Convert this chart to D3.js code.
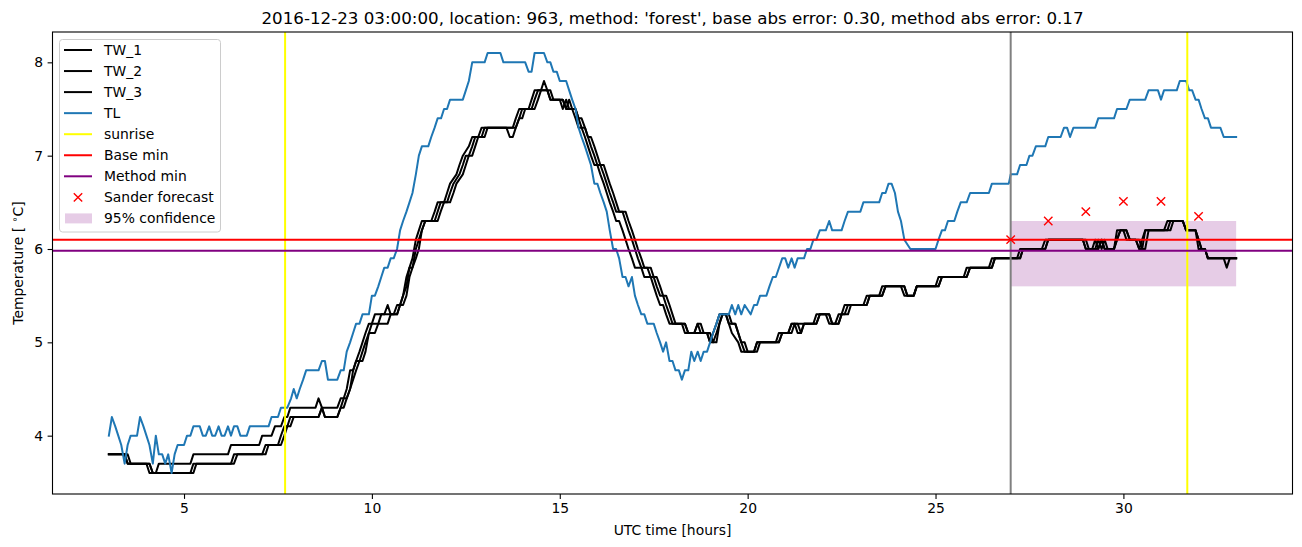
<!DOCTYPE html>
<html><head><meta charset="utf-8">
<script src="https://cdn.jsdelivr.net/npm/d3@7"></script>
<style>body{margin:0;background:#fff} svg{display:block} text{font-family:"DejaVu Sans",sans-serif;fill:#000}</style>
</head><body><svg id="c" width="1302" height="547"></svg>
<script>
// ---------------- data (hours since 2016-12-23 00:00 UTC, temperature °C) ----------------
const tlPoints = [[3.0,4.0],[3.08,4.2],[3.17,4.1],[3.25,4.0],[3.33,3.9],[3.42,3.7],[3.5,3.9],[3.58,4.0],[3.75,4.0],[3.83,4.2],[3.92,4.1],[4.0,4.0],[4.08,3.9],[4.17,3.7],[4.25,4.0],[4.33,3.8],[4.42,3.8],[4.5,3.7],[4.58,3.8],[4.67,3.6],[4.75,3.8],[4.83,3.9],[5.0,3.9],[5.08,4.0],[5.17,4.0],[5.25,4.1],[5.42,4.1],[5.5,4.0],[5.58,4.0],[5.67,4.1],[5.75,4.0],[5.83,4.0],[5.92,4.1],[6.0,4.0],[6.08,4.0],[6.17,4.1],[6.25,4.0],[6.33,4.1],[6.42,4.1],[6.5,4.0],[6.67,4.0],[6.75,4.1],[7.25,4.1],[7.33,4.2],[7.5,4.2],[7.58,4.3],[7.75,4.3],[7.85,4.4],[7.92,4.5],[8.0,4.4],[8.08,4.5],[8.17,4.6],[8.25,4.7],[8.58,4.7],[8.67,4.8],[8.75,4.8],[8.83,4.6],[9.08,4.6],[9.17,4.7],[9.25,4.7],[9.33,4.9],[9.42,5.0],[9.5,5.1],[9.58,5.2],[9.67,5.2],[9.75,5.3],[9.92,5.3],[10.0,5.5],[10.08,5.5],[10.17,5.6],[10.25,5.7],[10.33,5.8],[10.42,5.8],[10.5,5.9],[10.58,5.9],[10.67,6.0],[10.75,6.2],[10.83,6.3],[10.92,6.4],[11.0,6.5],[11.08,6.6],[11.17,6.8],[11.25,7.0],[11.33,7.1],[11.5,7.1],[11.58,7.2],[11.67,7.3],[11.75,7.4],[11.84,7.4],[11.92,7.5],[12.0,7.5],[12.08,7.6],[12.42,7.6],[12.5,7.7],[12.58,7.8],[12.67,8.0],[13.0,8.0],[13.08,8.1],[13.42,8.1],[13.5,8.0],[14.08,8.0],[14.17,7.9],[14.25,7.9],[14.33,8.1],[14.58,8.1],[14.67,8.0],[14.75,8.0],[14.83,7.9],[14.92,7.9],[15.0,7.8],[15.17,7.8],[15.25,7.7],[15.33,7.6],[15.42,7.5],[15.5,7.3],[15.58,7.2],[15.67,7.1],[15.75,7.0],[15.83,6.9],[15.92,6.7],[16.0,6.7],[16.08,6.6],[16.17,6.5],[16.25,6.4],[16.33,6.2],[16.42,6.0],[16.5,6.0],[16.58,5.9],[16.67,5.7],[16.75,5.7],[16.83,5.6],[16.92,5.7],[17.0,5.5],[17.08,5.4],[17.17,5.3],[17.25,5.3],[17.33,5.2],[17.5,5.2],[17.58,5.1],[17.67,5.0],[17.75,4.9],[17.83,5.0],[17.92,4.8],[18.0,4.8],[18.08,4.7],[18.17,4.7],[18.25,4.6],[18.33,4.7],[18.42,4.7],[18.5,4.9],[18.58,4.8],[18.67,4.9],[18.75,4.8],[18.83,4.9],[18.92,4.9],[19.0,5.0],[19.08,5.1],[19.17,5.2],[19.25,5.3],[19.5,5.3],[19.58,5.4],[19.67,5.3],[19.75,5.4],[19.83,5.3],[19.92,5.4],[20.08,5.3],[20.17,5.4],[20.25,5.4],[20.33,5.5],[20.5,5.5],[20.58,5.6],[20.67,5.7],[20.75,5.7],[20.92,5.9],[21.0,5.9],[21.08,5.8],[21.17,5.9],[21.25,5.8],[21.33,5.9],[21.5,5.9],[21.58,6.0],[21.67,6.0],[21.75,6.1],[21.83,6.1],[21.92,6.2],[22.08,6.2],[22.17,6.3],[22.25,6.2],[22.5,6.2],[22.58,6.3],[22.67,6.4],[23.0,6.4],[23.08,6.5],[23.5,6.5],[23.58,6.6],[23.67,6.6],[23.75,6.7],[23.83,6.7],[23.92,6.6],[24.0,6.4],[24.08,6.3],[24.17,6.1],[24.33,6.0],[25.0,6.0],[25.08,6.1],[25.17,6.2],[25.25,6.2],[25.33,6.3],[25.5,6.3],[25.58,6.4],[25.67,6.5],[25.83,6.5],[25.92,6.6],[26.42,6.6],[26.5,6.7],[26.95,6.7],[27.0,6.8],[27.17,6.8],[27.25,6.9],[27.42,6.9],[27.5,7.0],[27.58,7.0],[27.67,7.1],[27.92,7.1],[28.0,7.2],[28.33,7.2],[28.42,7.3],[28.5,7.3],[28.58,7.2],[28.67,7.3],[29.25,7.3],[29.33,7.4],[29.75,7.4],[29.83,7.5],[30.08,7.5],[30.17,7.6],[30.58,7.6],[30.67,7.7],[30.92,7.7],[31.0,7.6],[31.08,7.7],[31.42,7.7],[31.5,7.8],[31.67,7.8],[31.75,7.7],[31.83,7.7],[31.92,7.6],[32.0,7.6],[32.08,7.5],[32.17,7.4],[32.25,7.4],[32.33,7.3],[32.58,7.3],[32.67,7.2],[33.0,7.2]];

const tw1Points = [[3.0,3.8],[3.42,3.8],[3.5,3.7],[4.0,3.7],[4.08,3.6],[4.25,3.6],[4.33,3.7],[5.17,3.7],[5.25,3.8],[6.17,3.8],[6.25,3.9],[7.0,3.9],[7.08,4.0],[7.33,4.0],[7.42,4.1],[7.58,4.1],[7.67,4.2],[7.75,4.2],[7.83,4.3],[8.5,4.3],[8.58,4.4],[8.67,4.3],[9.08,4.3],[9.17,4.4],[9.25,4.4],[9.33,4.5],[9.42,4.7],[9.5,4.7],[9.58,4.8],[9.67,4.9],[9.75,5.0],[9.83,5.1],[9.92,5.2],[10.0,5.2],[10.08,5.3],[10.33,5.3],[10.42,5.4],[10.5,5.3],[10.67,5.3],[10.75,5.4],[10.83,5.5],[10.92,5.7],[11.0,5.8],[11.08,5.9],[11.17,6.1],[11.25,6.2],[11.33,6.3],[11.58,6.3],[11.67,6.4],[11.75,6.5],[11.92,6.5],[12.0,6.6],[12.08,6.7],[12.25,6.8],[12.33,6.9],[12.42,7.0],[12.58,7.1],[12.67,7.2],[12.83,7.2],[12.92,7.3],[13.75,7.3],[13.83,7.4],[13.92,7.5],[14.17,7.5],[14.25,7.6],[14.33,7.7],[14.5,7.7],[14.58,7.8],[14.67,7.7],[14.75,7.6],[15.0,7.6],[15.08,7.5],[15.17,7.6],[15.25,7.5],[15.33,7.5],[15.42,7.4],[15.5,7.3],[15.58,7.3],[15.67,7.2],[15.75,7.1],[15.83,7.0],[15.92,6.9],[16.0,6.9],[16.08,6.8],[16.17,6.7],[16.25,6.6],[16.33,6.5],[16.42,6.4],[16.5,6.3],[16.58,6.3],[16.67,6.2],[16.75,6.1],[16.83,6.0],[16.92,5.9],[17.0,5.8],[17.17,5.8],[17.25,5.7],[17.42,5.7],[17.5,5.6],[17.58,5.5],[17.67,5.4],[17.75,5.4],[17.83,5.3],[17.92,5.2],[18.33,5.2],[18.42,5.1],[18.58,5.1],[18.67,5.2],[18.75,5.1],[18.92,5.1],[19.0,5.0],[19.08,5.1],[19.17,5.2],[19.25,5.3],[19.42,5.3],[19.5,5.2],[19.58,5.1],[19.75,5.0],[19.83,4.9],[20.17,4.9],[20.25,5.0],[20.75,5.0],[20.83,5.1],[21.08,5.1],[21.17,5.2],[21.75,5.2],[21.83,5.3],[22.08,5.3],[22.17,5.2],[22.33,5.2],[22.42,5.3],[22.5,5.3],[22.58,5.4],[23.08,5.4],[23.17,5.5],[23.5,5.5],[23.58,5.6],[24.08,5.6],[24.17,5.5],[24.42,5.5],[24.5,5.6],[25.0,5.6],[25.08,5.7],[25.75,5.7],[25.83,5.8],[26.42,5.8],[26.5,5.9],[27.17,5.9],[27.25,6.0],[27.83,6.0],[27.92,6.1],[28.92,6.1],[29.0,6.0],[29.17,6.0],[29.25,6.1],[29.33,6.0],[29.42,6.1],[29.5,6.0],[29.75,6.0],[29.83,6.2],[30.0,6.2],[30.08,6.1],[30.33,6.1],[30.42,6.0],[30.5,6.1],[30.58,6.2],[31.08,6.2],[31.17,6.3],[31.58,6.3],[31.67,6.2],[31.92,6.2],[32.0,6.0],[32.17,6.0],[32.25,5.9],[33.0,5.9]];

const tw2Points = [[3.0,3.8],[3.42,3.8],[3.5,3.7],[4.08,3.7],[4.17,3.6],[5.17,3.6],[5.25,3.7],[6.25,3.7],[6.33,3.8],[7.08,3.8],[7.17,3.9],[7.5,3.9],[7.58,4.0],[7.67,4.1],[7.75,4.1],[7.83,4.2],[8.58,4.2],[8.67,4.3],[8.75,4.2],[9.08,4.2],[9.17,4.3],[9.25,4.4],[9.33,4.4],[9.42,4.5],[9.5,4.7],[9.58,4.8],[9.67,4.8],[9.75,4.9],[9.83,5.0],[9.92,5.1],[10.0,5.2],[10.17,5.2],[10.25,5.3],[10.58,5.3],[10.67,5.4],[10.75,5.4],[10.83,5.5],[10.92,5.6],[11.0,5.8],[11.08,5.8],[11.17,6.0],[11.25,6.1],[11.33,6.2],[11.42,6.3],[11.67,6.3],[11.75,6.4],[11.83,6.5],[12.0,6.5],[12.08,6.6],[12.17,6.7],[12.33,6.8],[12.42,6.9],[12.5,7.0],[12.58,7.0],[12.67,7.1],[12.75,7.2],[12.92,7.2],[13.0,7.3],[13.83,7.3],[13.92,7.4],[14.0,7.5],[14.25,7.5],[14.33,7.6],[14.42,7.7],[14.67,7.7],[14.75,7.6],[15.08,7.6],[15.17,7.5],[15.25,7.6],[15.33,7.5],[15.42,7.5],[15.5,7.4],[15.58,7.3],[15.67,7.3],[15.75,7.2],[15.83,7.1],[15.92,7.0],[16.0,6.9],[16.08,6.9],[16.17,6.8],[16.25,6.7],[16.33,6.6],[16.42,6.5],[16.5,6.4],[16.67,6.4],[16.75,6.3],[16.83,6.2],[16.92,6.1],[17.0,6.0],[17.08,5.9],[17.17,5.8],[17.33,5.8],[17.42,5.7],[17.5,5.7],[17.58,5.6],[17.67,5.5],[17.75,5.5],[17.83,5.4],[17.92,5.3],[18.0,5.2],[18.33,5.2],[18.42,5.1],[18.58,5.1],[18.67,5.2],[18.75,5.2],[18.83,5.1],[19.0,5.1],[19.08,5.0],[19.17,5.1],[19.25,5.2],[19.33,5.3],[19.42,5.3],[19.5,5.2],[19.67,5.2],[19.75,5.1],[19.83,5.0],[19.92,4.9],[20.17,4.9],[20.25,5.0],[20.83,5.0],[20.92,5.1],[21.08,5.1],[21.17,5.2],[21.33,5.2],[21.42,5.1],[21.5,5.2],[21.83,5.2],[21.92,5.3],[22.17,5.3],[22.25,5.2],[22.42,5.2],[22.5,5.3],[22.58,5.3],[22.67,5.4],[23.17,5.4],[23.25,5.5],[23.58,5.5],[23.67,5.6],[24.17,5.6],[24.25,5.5],[24.42,5.5],[24.5,5.6],[25.08,5.6],[25.17,5.7],[25.83,5.7],[25.92,5.8],[26.5,5.8],[26.58,5.9],[27.25,5.9],[27.33,6.0],[27.92,6.0],[28.0,6.1],[28.92,6.1],[29.0,6.0],[29.25,6.0],[29.33,6.1],[29.42,6.0],[29.5,6.1],[29.58,6.0],[29.75,6.0],[29.83,6.1],[29.92,6.2],[30.08,6.2],[30.17,6.1],[30.42,6.1],[30.5,6.0],[30.58,6.2],[31.17,6.2],[31.25,6.3],[31.58,6.3],[31.67,6.2],[31.92,6.2],[32.0,6.1],[32.08,6.0],[32.17,6.0],[32.25,5.9],[33.0,5.9]];

const tw3Points = [[3.0,3.8],[3.5,3.8],[3.58,3.7],[4.08,3.7],[4.17,3.6],[5.25,3.6],[5.33,3.7],[6.33,3.7],[6.42,3.8],[7.17,3.8],[7.25,3.9],[7.58,3.9],[7.67,4.0],[7.75,4.1],[7.83,4.1],[7.92,4.2],[8.58,4.2],[8.67,4.3],[8.75,4.2],[9.08,4.2],[9.17,4.3],[9.25,4.3],[9.33,4.4],[9.42,4.5],[9.5,4.6],[9.58,4.7],[9.67,4.8],[9.75,4.8],[9.83,4.9],[9.92,5.1],[10.08,5.1],[10.17,5.2],[10.42,5.2],[10.5,5.3],[10.67,5.3],[10.75,5.4],[10.83,5.4],[10.92,5.5],[11.0,5.7],[11.08,5.8],[11.17,5.9],[11.25,6.0],[11.33,6.2],[11.42,6.3],[11.75,6.3],[11.83,6.4],[11.92,6.5],[12.08,6.5],[12.17,6.6],[12.25,6.7],[12.42,6.8],[12.5,6.9],[12.58,7.0],[12.67,7.0],[12.75,7.1],[12.83,7.2],[13.0,7.2],[13.08,7.3],[13.58,7.3],[13.67,7.2],[13.75,7.2],[13.83,7.3],[13.92,7.4],[14.0,7.4],[14.08,7.5],[14.33,7.5],[14.42,7.6],[14.5,7.7],[14.75,7.7],[14.83,7.6],[15.08,7.6],[15.17,7.5],[15.42,7.5],[15.5,7.4],[15.58,7.4],[15.67,7.3],[15.75,7.2],[15.83,7.2],[15.92,7.1],[16.0,7.0],[16.08,6.9],[16.17,6.9],[16.25,6.8],[16.33,6.7],[16.42,6.6],[16.5,6.5],[16.58,6.4],[16.75,6.4],[16.83,6.3],[16.92,6.2],[17.0,6.1],[17.08,6.0],[17.17,5.9],[17.25,5.8],[17.42,5.8],[17.5,5.7],[17.58,5.7],[17.67,5.6],[17.75,5.5],[17.83,5.5],[17.92,5.4],[18.0,5.3],[18.08,5.2],[18.25,5.2],[18.33,5.1],[18.92,5.1],[19.0,5.0],[19.17,5.0],[19.25,5.2],[19.33,5.3],[19.5,5.3],[19.58,5.2],[19.67,5.2],[19.75,5.1],[19.83,5.0],[19.92,5.0],[20.0,4.9],[20.25,4.9],[20.33,5.0],[20.83,5.0],[20.92,5.1],[21.17,5.1],[21.25,5.2],[21.33,5.1],[21.42,5.1],[21.5,5.2],[21.83,5.2],[21.92,5.3],[22.17,5.3],[22.25,5.2],[22.42,5.2],[22.5,5.3],[22.67,5.3],[22.75,5.4],[23.17,5.4],[23.25,5.5],[23.58,5.5],[23.67,5.6],[24.17,5.6],[24.25,5.5],[24.42,5.5],[24.5,5.6],[25.08,5.6],[25.17,5.7],[25.83,5.7],[25.92,5.8],[26.5,5.8],[26.58,5.9],[27.25,5.9],[27.33,6.0],[27.92,6.0],[28.0,6.1],[29.0,6.1],[29.08,6.0],[29.33,6.0],[29.42,6.1],[29.5,6.0],[29.75,6.0],[29.83,6.1],[29.92,6.2],[30.08,6.2],[30.17,6.1],[30.33,6.1],[30.42,6.0],[30.58,6.0],[30.67,6.2],[31.25,6.2],[31.33,6.3],[31.58,6.3],[31.67,6.2],[31.92,6.2],[32.0,6.1],[32.08,6.0],[32.17,6.0],[32.25,5.9],[32.67,5.9],[32.75,5.8],[32.83,5.9],[33.0,5.9]];

const sunriseHours = [7.69, 31.70];
const forecastStartHour = 27.0;
const baseMinValue = 6.10;
const methodMinValue = 5.98;
const forecastHours = [27, 28, 29, 30, 31, 32];
const forecastValues = [6.10, 6.30, 6.40, 6.51, 6.51, 6.35];
const confidenceHours = [27.0, 33.0];
const confidenceRange = [5.60, 6.30];
const xTickValues = [5, 10, 15, 20, 25, 30];
const yTickValues = [4, 5, 6, 7, 8];
const titleText = "2016-12-23 03:00:00, location: 963, method: 'forest', base abs error: 0.30, method abs error: 0.17";
const legendLabels = ["TW_1", "TW_2", "TW_3", "TL", "sunrise", "Base min", "Method min", "Sander forecast", "95% confidence"];

// ---------------- drawing ----------------
const svg = d3.select("#c");
const M = {l: 52.5, r: 1292.5, t: 32, b: 494};
const x = d3.scaleLinear().domain([1.5, 34.5]).range([M.l, M.r]);
const y = d3.scaleLinear().domain([3.375, 8.325]).range([M.b, M.t]);
const FS = 13.9;
const LW = 2;

svg.append("defs").append("clipPath").attr("id", "clip")
  .append("rect").attr("x", M.l).attr("y", M.t).attr("width", M.r - M.l).attr("height", M.b - M.t);
const plot = svg.append("g").attr("clip-path", "url(#clip)");

// confidence band
plot.append("rect")
  .attr("x", x(confidenceHours[0])).attr("width", x(confidenceHours[1]) - x(confidenceHours[0]))
  .attr("y", y(confidenceRange[1])).attr("height", y(confidenceRange[0]) - y(confidenceRange[1]))
  .attr("fill", "purple").attr("fill-opacity", 0.2);

const line = d3.line().x(d => x(d[0])).y(d => y(d[1]));
[tw1Points, tw2Points, tw3Points].forEach(p => {
  plot.append("path").attr("d", line(p)).attr("fill", "none").attr("stroke", "#000")
    .attr("stroke-width", LW).attr("stroke-linejoin", "round").attr("stroke-linecap", "square");
});
plot.append("path").attr("d", line(tlPoints)).attr("fill", "none").attr("stroke", "#1f77b4")
  .attr("stroke-width", LW).attr("stroke-linejoin", "round").attr("stroke-linecap", "square");

// forecast start line
plot.append("line").attr("x1", x(forecastStartHour)).attr("x2", x(forecastStartHour))
  .attr("y1", M.t).attr("y2", M.b).attr("stroke", "gray").attr("stroke-width", LW);
// sunrise lines
sunriseHours.forEach(h => {
  plot.append("line").attr("x1", x(h)).attr("x2", x(h)).attr("y1", M.t).attr("y2", M.b)
    .attr("stroke", "yellow").attr("stroke-width", LW);
});
// base / method min
plot.append("line").attr("x1", M.l).attr("x2", M.r).attr("y1", y(baseMinValue)).attr("y2", y(baseMinValue))
  .attr("stroke", "red").attr("stroke-width", LW);
plot.append("line").attr("x1", M.l).attr("x2", M.r).attr("y1", y(methodMinValue)).attr("y2", y(methodMinValue))
  .attr("stroke", "purple").attr("stroke-width", LW);

// forecast markers
const ms = 4.2;
forecastHours.forEach((h, i) => {
  const cx = x(h), cy = y(forecastValues[i]);
  plot.append("path").attr("d", `M${cx-ms},${cy-ms}L${cx+ms},${cy+ms}M${cx-ms},${cy+ms}L${cx+ms},${cy-ms}`)
    .attr("stroke", "red").attr("stroke-width", 1.4).attr("fill", "none");
});

// axes
const xAxis = svg.append("g").attr("transform", `translate(0,${M.b})`)
  .call(d3.axisBottom(x).tickValues(xTickValues).tickFormat(d3.format("d")).tickSizeOuter(0).tickSize(4.9).tickPadding(4.5));
const yAxis = svg.append("g").attr("transform", `translate(${M.l},0)`)
  .call(d3.axisLeft(y).tickValues(yTickValues).tickFormat(d3.format("d")).tickSizeOuter(0).tickSize(4.9).tickPadding(4.5));
[xAxis, yAxis].forEach(a => {
  a.select(".domain").remove();
  a.selectAll("text").attr("font-size", FS).attr("font-family", "DejaVu Sans").attr("fill", "#000");
  a.selectAll("line").attr("stroke", "#000").attr("stroke-width", 1.1);
});
// frame
svg.append("rect").attr("x", M.l).attr("y", M.t).attr("width", M.r - M.l).attr("height", M.b - M.t)
  .attr("fill", "none").attr("stroke", "#000").attr("stroke-width", 1.1);

// labels
svg.append("text").attr("x", (M.l + M.r) / 2).attr("y", 535).attr("text-anchor", "middle")
  .attr("font-size", FS).text("UTC time [hours]");
const yl = svg.append("text").attr("transform", `translate(23,${(M.t + M.b) / 2}) rotate(-90)`)
  .attr("text-anchor", "middle").attr("font-size", FS);
yl.append("tspan").text("Temperature [ ");
yl.append("tspan").attr("font-size", FS * 0.7).attr("dy", -5).text("∘");
yl.append("tspan").attr("dy", 5).text("C]");
svg.append("text").attr("x", (M.l + M.r) / 2).attr("y", 24).attr("text-anchor", "middle")
  .attr("font-size", 16.7).text(titleText);

// legend
const lg = svg.append("g");
lg.append("rect").attr("x", 59.5).attr("y", 39.5).attr("width", 161).attr("height", 192.5)
  .attr("rx", 3).attr("fill", "#fff").attr("fill-opacity", 0.8).attr("stroke", "#ccc").attr("stroke-width", 1);
const rowY = i => 50 + i * 21.05;
const legendStyles = [
  {type: "line", color: "#000"}, {type: "line", color: "#000"}, {type: "line", color: "#000"},
  {type: "line", color: "#1f77b4"}, {type: "line", color: "yellow"}, {type: "line", color: "red"},
  {type: "line", color: "purple"}, {type: "x", color: "red"}, {type: "patch", color: "purple"}
];
legendLabels.forEach((lab, i) => {
  const yy = rowY(i), st = legendStyles[i];
  if (st.type === "line") {
    lg.append("line").attr("x1", 64).attr("x2", 92).attr("y1", yy).attr("y2", yy)
      .attr("stroke", st.color).attr("stroke-width", LW);
  } else if (st.type === "x") {
    const cx = 78;
    lg.append("path").attr("d", `M${cx-ms},${yy-ms}L${cx+ms},${yy+ms}M${cx-ms},${yy+ms}L${cx+ms},${yy-ms}`)
      .attr("stroke", st.color).attr("stroke-width", 1.4);
  } else {
    lg.append("rect").attr("x", 65).attr("y", yy - 5).attr("width", 27).attr("height", 10)
      .attr("fill", st.color).attr("fill-opacity", 0.2);
  }
  lg.append("text").attr("x", 104).attr("y", yy).attr("dy", "0.36em").attr("font-size", FS).text(lab);
});
</script></body></html>
